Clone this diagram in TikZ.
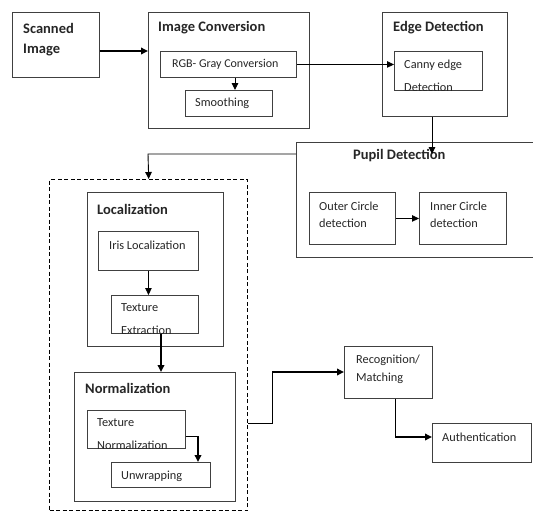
\documentclass[tikz,border=0pt]{standalone}
\usepackage{fontspec}
\setmainfont{Carlito}
\usetikzlibrary{arrows.meta,calc}
\tikzset{
  box/.style={draw=black!75, line width=0.9pt, rectangle, inner sep=0pt, anchor=north west},
  dbox/.style={draw=black, line width=1.4pt, dash pattern=on 4pt off 2.5pt, rectangle, inner sep=0pt, anchor=north west},
  title/.style={font=\fontsize{14.5}{17}\selectfont\bfseries, anchor=west, inner sep=0pt, text=black!85},
  txt/.style={font=\fontsize{12.3}{14}\selectfont, anchor=west, inner sep=0pt, text=black!85},
  conn/.style={line width=0.9pt, -{Triangle[length=7pt,width=6.5pt]}},
  thick conn/.style={line width=1.8pt, -{Triangle[length=7pt,width=6.5pt]}},
  plain/.style={line width=0.9pt},
}
\newcommand{\boxat}[6][box]{\node[#1, minimum width=#4-#2, minimum height=#5-#3] (#6) at (#2,#3) {};}
\begin{document}
\begin{tikzpicture}[x=1pt,y=-1pt]
\useasboundingbox (0,0) rectangle (533,512);
\clip (0,0) rectangle (533,512);
\fill[white] (0,0) rectangle (533,512);
% boxes
\boxat{12}{12}{99}{77}{scan}
\boxat{148}{12}{309}{128}{imgconv}
\boxat{160}{51}{296}{77}{rgb}
\boxat{185}{90}{272}{116}{smooth}
\boxat{382}{12}{507}{116}{edge}
\boxat{394}{51}{482}{90}{canny}
\boxat{296}{142}{545}{257}{pupil}
\boxat{309}{192}{395}{244}{outer}
\boxat{419}{192}{506}{244}{inner}
\boxat[dbox]{49}{179}{247}{510}{dashed}
\boxat{87}{192}{223}{346}{loc}
\boxat{98}{231}{198}{270}{iris}
\boxat{111}{295}{198}{333}{texext}
\boxat{74}{372}{235}{501}{norm}
\boxat{87}{410}{185}{448}{texnorm}
\boxat{111}{462}{210}{487}{unwrap}
\boxat{344}{346}{432}{398}{recog}
\boxat{432}{423}{531}{462}{auth}
% texts
\node[title] (tscan1) at (23,28) {Scanned};
\node[title] (tscan2) at (23,50) {Image};
\node[title] (timg) at (158,28) {Image Conversion};
\node[txt, font=\fontsize{12}{14}\selectfont] (trgb) at (172,64) {RGB- Gray Conversion};
\node[txt] (tsmooth) at (195,103) {Smoothing};
\node[title] (tedge) at (393,28) {Edge Detection};
\node[title] (tpupil) at (353,156) {Pupil Detection};
\node[txt] (tout1) at (319,206) {Outer Circle};
\node[txt] (tout2) at (319,223) {detection};
\node[txt] (tin1) at (430,206) {Inner Circle};
\node[txt] (tin2) at (430,223) {detection};
\node[title] (tloc) at (97,209) {Localization};
\node[txt] (tiris) at (109,245) {Iris Localization};
\node[title] (tnorm) at (85,388) {Normalization};
\node[txt] (tunwrap) at (121,476) {Unwrapping};
\node[txt] (trec1) at (356,360) {Recognition/};
\node[txt] (trec2) at (356,378) {Matching};
\node[txt] (tauth) at (442,437) {Authentication};
% clipped two-line texts
\begin{scope}
\clip (canny.north west) rectangle (canny.south east);
\node[txt] (tcanny1) at (404,65) {Canny edge};
\node[txt] (tcanny2) at (404,87) {Detection};
\end{scope}
\begin{scope}
\clip (texext.north west) rectangle (texext.south east);
\node[txt] (ttex1) at (121,308) {Texture};
\node[txt] (ttex2) at (121,330) {Extraction};
\end{scope}
\begin{scope}
\clip (texnorm.north west) rectangle (texnorm.south east);
\node[txt] (ttn1) at (97,423) {Texture};
\node[txt] (ttn2) at (97,445) {Normalization};
\end{scope}
% connectors
\coordinate (pupilin) at (432,154);
\coordinate (bendA) at (148,154);
\coordinate (bendB) at (272,423);
\coordinate (bendC) at (272,372);
\coordinate (bendD) at (395,437);
\coordinate (bendE) at (198,436);
\draw[thick conn] (scan.east |- 0,51) -- (imgconv.west |- 0,51);
\draw[conn] (rgb.south -| 235,0) -- (smooth.north -| 235,0);
\draw[conn] (rgb.east) -- (rgb.east -| canny.west);
\draw[conn] (edge.south -| pupilin) -- (pupilin);
\draw[conn] (pupil.west |- bendA) -- (bendA) -- (dashed.north);
\draw[conn] (outer.east) -- (inner.west);
\draw[conn] (iris.south) -- (iris.south |- texext.north);
\draw[thick conn] (texext.south -| 161,0) -- (norm.north -| 161,0);
\draw[plain] (texnorm.east |- bendE) -- (bendE);
\draw[thick conn] (bendE) -- (bendE |- unwrap.north);
\draw[plain] (dashed.east |- bendB) -- (bendB) -- (bendC);
\draw[thick conn] (bendC) -- (recog.west |- bendC);
\draw[plain] (recog.south -| bendD) -- (bendD);
\draw[thick conn] (bendD) -- (auth.west |- bendD);
\end{tikzpicture}
\end{document}
